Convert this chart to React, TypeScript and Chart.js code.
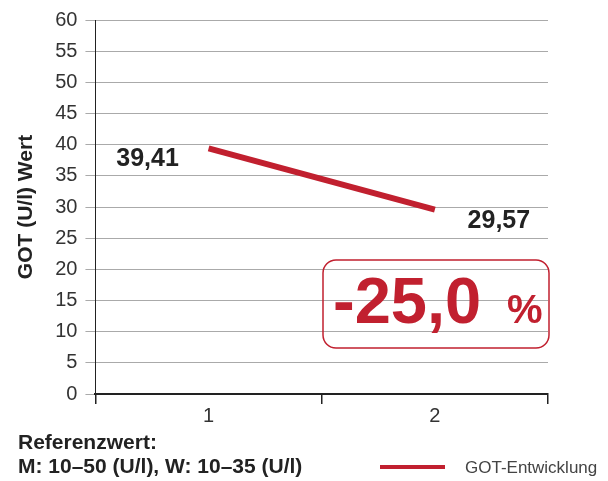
import React, { useEffect, useRef } from "react";
import { Chart, registerables } from "chart.js";

Chart.register(...registerables);

const categories = ["1", "2"];
const gotValues = [39.41, 29.57];
const valueLabels = ["39,41", "29,57"];
const changeText = "-25,0";
const seriesName = "GOT-Entwicklung";
const yTitle = "GOT (U/l) Wert";
const footerLines = ["Referenzwert:", "M: 10–50 (U/l), W: 10–35 (U/l)"];

const RED = "#c1202f";
const FONT = "'Liberation Sans', Arial, Helvetica, sans-serif";

const overlay = {
  id: "overlay",
  afterDatasetsDraw(chart: any) {
    const ctx = chart.ctx;
    const meta = chart.getDatasetMeta(0);
    ctx.save();
    // value labels
    ctx.font = `bold 25px ${FONT}`;
    ctx.fillStyle = "#222";
    ctx.textAlign = "center";
    ctx.textBaseline = "middle";
    const p0 = meta.data[0];
    const p1 = meta.data[1];
    ctx.fillText(valueLabels[0], p0.x - 61, p0.y + 11);
    ctx.fillText(valueLabels[1], p1.x + 64, p1.y + 11);

    // change box
    const bx = 323, by = 260, bw = 226, bh = 88, r = 13;
    ctx.strokeStyle = RED;
    ctx.lineWidth = 1.5;
    ctx.beginPath();
    ctx.roundRect(bx, by, bw, bh, r);
    ctx.stroke();
    ctx.fillStyle = RED;
    ctx.textAlign = "left";
    ctx.textBaseline = "alphabetic";
    ctx.font = `bold 65px ${FONT}`;
    ctx.fillText(changeText, 333, 323);
    ctx.font = `bold 40px ${FONT}`;
    ctx.fillText("%", 507, 323);

    // footer
    ctx.fillStyle = "#222";
    ctx.font = `bold 21px ${FONT}`;
    ctx.fillText(footerLines[0], 18, 449);
    ctx.fillText(footerLines[1], 18, 473);

    // legend
    ctx.strokeStyle = RED;
    ctx.lineWidth = 4;
    ctx.beginPath();
    ctx.moveTo(380, 467);
    ctx.lineTo(445, 467);
    ctx.stroke();
    ctx.fillStyle = "#444";
    ctx.font = `17px ${FONT}`;
    ctx.textBaseline = "middle";
    ctx.fillText(seriesName, 465, 468);
    ctx.restore();
  },
};

export default function App() {
  const ref = useRef<HTMLCanvasElement>(null);
  useEffect(() => {
    document.body.style.margin = "0";
    const chart = new Chart(ref.current!, {
      type: "line",
      data: {
        labels: categories,
        datasets: [
          {
            label: seriesName,
            data: gotValues,
            borderColor: RED,
            backgroundColor: RED,
            borderWidth: 6,
            pointRadius: 0,
            tension: 0,
          },
        ],
      },
      options: {
        animation: false,
        responsive: false,
        layout: { padding: { left: 10, right: 60, top: 4, bottom: 53 } },
        plugins: { legend: { display: false }, tooltip: { enabled: false } },
        scales: {
          x: {
            offset: true,
            grid: {
              offset: true,
              drawOnChartArea: false,
              drawTicks: true,
              tickLength: 10,
              color: "#222",
              lineWidth: 1.5,
            },
            border: { color: "#222", width: 2 },
            ticks: { font: { family: FONT, size: 20 }, color: "#333", padding: 0 },
          },
          y: {
            min: 0,
            max: 60,
            ticks: {
              stepSize: 5,
              font: { family: FONT, size: 20 },
              color: "#333",
              padding: 8,
            },
            grid: { color: "#aaa", lineWidth: 1, tickLength: 10 },
            border: { color: "#222", width: 1 },
            title: {
              display: true,
              text: yTitle,
              font: { family: FONT, size: 21, weight: "bold" },
              color: "#222",
              padding: { top: 4, bottom: 8 },
            },
          },
        },
      },
      plugins: [overlay],
    });
    return () => chart.destroy();
  }, []);
  return (
    <div style={{ position: "absolute", left: 0, top: 0, width: 608, height: 481 }}>
      <canvas ref={ref} width={608} height={481} />
    </div>
  );
}
